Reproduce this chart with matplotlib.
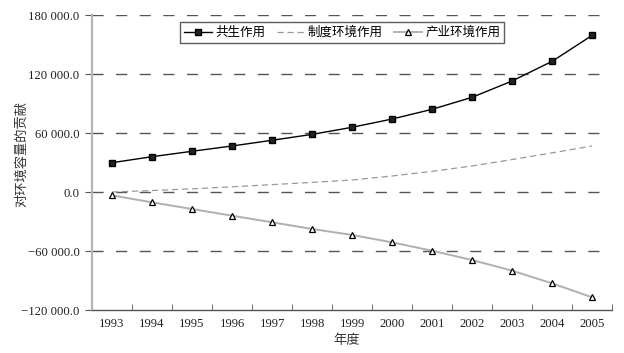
import matplotlib
matplotlib.use("Agg")
import matplotlib.pyplot as plt
from matplotlib.ticker import FuncFormatter

# Data
years = ["1993", "1994", "1995", "1996", "1997", "1998", "1999",
         "2000", "2001", "2002", "2003", "2004", "2005"]
symbiosis = [29800, 35900, 41400, 46800, 52600, 58600, 65800,
             74200, 84100, 96300, 112900, 132900, 159300]
institution = [0, 1500, 3200, 5300, 7500, 9800, 12200,
               16300, 21000, 26500, 33000, 39800, 46800]
industry = [-3400, -10500, -17300, -24100, -30800, -37600, -43700,
            -51200, -59700, -69200, -80000, -92900, -107100]
yticks = [-120000, -60000, 0, 60000, 120000, 180000]

cjk = ["Noto Sans CJK SC", "DejaVu Sans"]
serif = ["Liberation Serif", "DejaVu Serif"]

fig = plt.figure(figsize=(6.24, 3.53), dpi=100)
ax = fig.add_axes([0.1474, 0.1218, 0.8336, 0.8357])

x = [i + 0.5 for i in range(len(years))]

# grid lines
for v in yticks[1:]:
    ax.axhline(v, color="#555555", lw=1.0, dashes=(8, 9), zorder=0)

ax.plot(x, symbiosis, color="black", lw=1.0, marker="s", ms=4,
        mfc="#222222", mec="black", label="共生作用", zorder=3)
ax.plot(x, institution, color="#999999", lw=0.9, dashes=(5, 3),
        label="制度环境作用", zorder=2)
ax.plot(x, industry, color="#b0b0b0", lw=1.4, marker="^", ms=4.5,
        mfc="white", mec="black", mew=0.9, label="产业环境作用", zorder=2)

ax.set_xlim(0, len(years))
ax.set_ylim(-120000, 180000)
ax.set_yticks(yticks)
ax.set_xticks(x)
ax.set_xticklabels(years)
ax.set_xticks(range(len(years) + 1), minor=True)


def fmt(v, pos):
    s = f"{abs(v):,.1f}".replace(",", " ")
    return ("\u2212" if v < 0 else "") + s


ax.yaxis.set_major_formatter(FuncFormatter(fmt))
ax.tick_params(axis="x", which="major", length=0, pad=6)
ax.tick_params(axis="x", which="minor", direction="in", length=4,
               color="#555555")
ax.tick_params(axis="y", direction="out", length=5, color="#555555", pad=4)
for lab in ax.get_xticklabels() + ax.get_yticklabels():
    lab.set_fontfamily(serif)
    lab.set_fontsize(9.2)
    lab.set_color("#222222")

for side in ["top", "right"]:
    ax.spines[side].set_visible(False)
ax.spines["left"].set_color("#b5b5b5")
ax.spines["left"].set_linewidth(1.6)
ax.spines["bottom"].set_color("#555555")
ax.spines["bottom"].set_linewidth(1.0)

ax.set_ylabel("对环境容量的贡献", family=cjk, fontsize=9.5, color="#333333")
ax.yaxis.set_label_coords(-0.122, 0.53)
ax.set_xlabel("年度", family=cjk, fontsize=9.5, color="#333333")
ax.xaxis.set_label_coords(0.49, -0.083)

leg = ax.legend(loc="upper left", bbox_to_anchor=(0.17, 0.975), ncol=3,
                prop={"family": cjk, "size": 9}, frameon=True, fancybox=False,
                edgecolor="#333333", handlelength=2.2, handletextpad=0.3,
                columnspacing=0.9, borderpad=0.3, borderaxespad=0)
leg.get_frame().set_linewidth(1.0)

fig.savefig("out.png", dpi=100)
